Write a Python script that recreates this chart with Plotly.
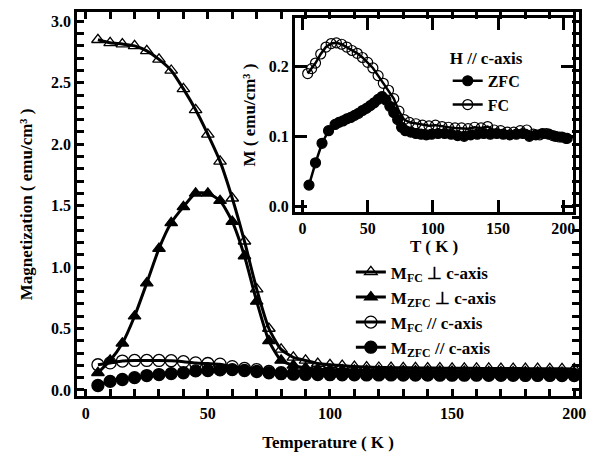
import plotly.graph_objects as go

# ---------------- data ----------------
T_main = [5, 10, 15, 20, 25, 30, 35, 40, 45, 50, 55, 60, 65, 70, 75, 80, 85, 90, 95, 100,
          105, 110, 115, 120, 125, 130, 135, 140, 145, 150, 155, 160, 165, 170, 175, 180,
          185, 190, 195, 200]

M_fc_perp = [2.85, 2.825, 2.815, 2.80, 2.76, 2.69, 2.60, 2.45, 2.28, 2.08, 1.86, 1.56, 1.21,
             0.82, 0.50, 0.33, 0.265, 0.24, 0.215, 0.205, 0.198, 0.19, 0.186, 0.183, 0.181,
             0.18, 0.179, 0.178, 0.177, 0.176, 0.176, 0.175, 0.175, 0.174, 0.174, 0.173,
             0.173, 0.172, 0.172, 0.171]

M_zfc_perp = [0.14, 0.24, 0.38, 0.60, 0.87, 1.15, 1.36, 1.49, 1.60, 1.60, 1.54, 1.37, 1.09,
              0.72, 0.40, 0.24, 0.20, 0.18, 0.17, 0.165, 0.162, 0.16, 0.158, 0.156, 0.155,
              0.154, 0.153, 0.152, 0.151, 0.15, 0.149, 0.148, 0.147, 0.146, 0.145, 0.145,
              0.144, 0.143, 0.142, 0.141]

M_fc_par = [0.205, 0.22, 0.235, 0.24, 0.24, 0.24, 0.238, 0.23, 0.22, 0.215, 0.21, 0.19, 0.175,
            0.165, 0.15, 0.14, 0.136, 0.134, 0.133, 0.132, 0.131, 0.13, 0.13, 0.13, 0.129,
            0.129, 0.128, 0.128, 0.128, 0.127, 0.127, 0.127, 0.126, 0.126, 0.126, 0.125,
            0.125, 0.125, 0.124, 0.124]

M_zfc_par = [0.036, 0.07, 0.085, 0.10, 0.117, 0.125, 0.133, 0.14, 0.155, 0.158, 0.163, 0.165,
             0.158, 0.15, 0.14, 0.132, 0.128, 0.126, 0.125, 0.124, 0.123, 0.123, 0.122, 0.122,
             0.122, 0.121, 0.121, 0.121, 0.12, 0.12, 0.12, 0.12, 0.119, 0.119, 0.119, 0.118,
             0.118, 0.118, 0.117, 0.117]

# inset: H // c-axis
T_fc_in = [4, 7, 10, 14, 18, 22, 26, 30, 34, 38, 42, 46, 50, 54, 58, 62, 66, 70, 74, 78, 82,
           87, 92, 97, 102, 107, 112, 117, 122, 127, 132, 137, 142, 147, 152, 157, 162, 167,
           172, 177, 182, 187, 192, 197, 202]
M_fc_in = [0.190, 0.197, 0.205, 0.218, 0.228, 0.233, 0.234, 0.232, 0.228, 0.223, 0.219, 0.213,
           0.206, 0.198, 0.187, 0.176, 0.166, 0.154, 0.136, 0.124, 0.120, 0.118, 0.116, 0.115,
           0.116, 0.114, 0.113, 0.112, 0.112, 0.111, 0.113, 0.112, 0.114, 0.109, 0.108, 0.106,
           0.106, 0.108, 0.109, 0.103, 0.102, 0.104, 0.101, 0.099, 0.097]

T_zfc_in = [5, 10, 15, 20, 25, 28, 31, 34, 37, 40, 43, 46, 49, 52, 55, 58, 61, 64, 67, 70, 73,
            76, 79, 83, 87, 91, 95, 99, 104, 109, 114, 119, 124, 129, 134, 139, 144, 149, 154,
            159, 164, 169, 174, 179, 184, 189, 194, 199, 203]
M_zfc_in = [0.030, 0.062, 0.090, 0.108, 0.117, 0.120, 0.122, 0.125, 0.127, 0.130, 0.133, 0.137,
            0.140, 0.144, 0.148, 0.153, 0.157, 0.152, 0.143, 0.134, 0.124, 0.113, 0.108, 0.106,
            0.104, 0.103, 0.102, 0.103, 0.104, 0.104, 0.103, 0.101, 0.100, 0.102, 0.103, 0.104,
            0.103, 0.104, 0.103, 0.102, 0.103, 0.104, 0.100, 0.102, 0.104, 0.103, 0.100, 0.099,
            0.097]

# tick positions / labels of the main axes (ticks every 10 K and every 0.1)
x_tickvals = [0, 10, 20, 30, 40, 50, 60, 70, 80, 90, 100, 110, 120, 130, 140, 150, 160, 170,
              180, 190, 200]
x_ticktext = ["0", "", "", "", "", "50", "", "", "", "", "100", "", "", "", "", "150", "", "",
              "", "", "200"]
y_tickvals = [0.0, 0.1, 0.2, 0.3, 0.4, 0.5, 0.6, 0.7, 0.8, 0.9, 1.0, 1.1, 1.2, 1.3, 1.4, 1.5,
              1.6, 1.7, 1.8, 1.9, 2.0, 2.1, 2.2, 2.3, 2.4, 2.5, 2.6, 2.7, 2.8, 2.9, 3.0]
y_ticktext = ["0.0", "", "", "", "", "0.5", "", "", "", "", "1.0", "", "", "", "", "1.5", "",
              "", "", "", "2.0", "", "", "", "", "2.5", "", "", "", "", "3.0"]

main_names = ["M<sub>FC</sub> \u22a5 c-axis", "M<sub>ZFC</sub> \u22a5 c-axis",
              "M<sub>FC</sub> // c-axis", "M<sub>ZFC</sub> // c-axis"]
inset_names = ["ZFC", "FC"]
x_title = "Temperature ( K )"
y_title = "Magnetization ( emu/cm\u00b3 )"
x2_title = "T ( K )"
y2_title = "M ( emu/cm\u00b3 )"
inset_legend_title = "H // c-axis"

# ---------------- figure ----------------
# the page body has an 8 px margin, so the figure is 8 px smaller than the window
W, H = 587, 448


def fx(p):  # page pixel -> paper x
    return (p - 8) / W


def fy(p):  # page pixel -> paper y
    return 1 - (p - 8) / H


fig = go.Figure()

main_series = [
    (M_fc_perp, "triangle-up-open", 11),
    (M_zfc_perp, "triangle-up", 11),
    (M_fc_par, "circle-open", 12),
    (M_zfc_par, "circle", 12),
]
for i, ((vals, sym, sz), name) in enumerate(zip(main_series, main_names)):
    fig.add_trace(go.Scatter(
        x=T_main, y=vals, name=name, mode="lines+markers",
        line=dict(color="black", width=3, shape="spline", smoothing=0.6),
        marker=dict(symbol=sym, size=sz, color="black",
                    line=dict(color="black", width=1.3)),
        xaxis="x", yaxis="y", legend="legend", legendgroup=f"g{i}",
    ))

for (tt, vals, sym), name in zip([(T_zfc_in, M_zfc_in, "circle"),
                                  (T_fc_in, M_fc_in, "circle-open")], inset_names):
    fig.add_trace(go.Scatter(
        x=tt, y=vals, name=name, mode="lines+markers",
        line=dict(color="black", width=2.5),
        marker=dict(symbol=sym, size=10, color="black",
                    line=dict(color="black", width=1.2)),
        xaxis="x2", yaxis="y2", legend="legend2", legendgroup=name,
    ))

ax = dict(showline=True, linewidth=3, linecolor="black", ticks="inside", ticklen=10,
          tickwidth=3, tickcolor="black", showgrid=False, zeroline=False,
          mirror="allticks")

fig.update_layout(
    width=W, height=H,
    margin=dict(l=0, r=0, t=0, b=0),
    paper_bgcolor="white", plot_bgcolor="rgba(0,0,0,0)",
    font=dict(family="Liberation Serif", size=16, color="black", weight="bold"),
    showlegend=True,
    xaxis=dict(ax, domain=[fx(78), fx(586)], range=[-3.5, 202.0], anchor="y",
               tickmode="array", tickvals=x_tickvals, ticktext=x_ticktext, ticklen=7,
               tickfont=dict(size=16),
               title=dict(text=x_title, font=dict(size=17), standoff=16)),
    yaxis=dict(ax, domain=[fy(399), fy(12.5)], range=[-0.0525, 3.072], anchor="x",
               tickmode="array", tickvals=y_tickvals, ticktext=y_ticktext, ticklen=7,
               tickfont=dict(size=16),
               title=dict(text=y_title, font=dict(size=17), standoff=15)),
    xaxis2=dict(ax, domain=[fx(298.5), fx(580)], range=[-5.7, 207.6], anchor="y2",
                ticklen=12, dtick=50, tick0=0, tickfont=dict(size=16),
                title=dict(text=x2_title, font=dict(size=17), standoff=0)),
    yaxis2=dict(ax, domain=[fy(213), fy(18.5)], range=[-0.008, 0.269], anchor="x2",
                ticklen=12, dtick=0.1, tick0=0, tickformat=".1f", tickfont=dict(size=16),
                title=dict(text=y2_title, font=dict(size=17), standoff=9)),
    legend=dict(x=347 / W, y=1 - 248 / H, xanchor="left", yanchor="top",
                bgcolor="rgba(0,0,0,0)", font=dict(size=17), tracegroupgap=0,
                itemclick=False),
    legend2=dict(x=445 / W, y=1 - 34 / H, xanchor="left", yanchor="top",
                 bgcolor="rgba(0,0,0,0)", font=dict(size=16), tracegroupgap=0,
                 title=dict(text=inset_legend_title, font=dict(size=17))),
)

fig.write_html("out.html")
